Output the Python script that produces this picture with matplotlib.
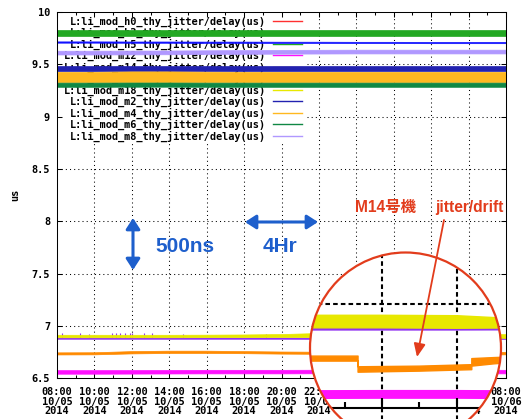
import matplotlib
matplotlib.use('Agg')
import numpy as np
import matplotlib.pyplot as plt
from matplotlib.patches import Circle, Rectangle, FancyArrowPatch

W, H, DPI = 522, 419, 100

# ------------------------------------------------------------------ data
tick_hours = [0, 2, 4, 6, 8, 10, 12, 14, 16, 18, 20, 22, 24]
minor_hours = [1, 3, 5, 7, 9, 11, 13, 15, 17, 19, 21, 23]
time_labels = ['08:00\n10/05\n2014', '10:00\n10/05\n2014', '12:00\n10/05\n2014',
               '14:00\n10/05\n2014', '16:00\n10/05\n2014', '18:00\n10/05\n2014',
               '20:00\n10/05\n2014', '22:00\n10/05\n2014', '00:00\n10/06\n2014',
               '02:00\n10/06\n2014', '04:00\n10/06\n2014', '06:00\n10/06\n2014',
               '08:00\n10/06\n2014']
y_ticks = [6.5, 7.0, 7.5, 8.0, 8.5, 9.0, 9.5, 10.0]
y_tick_labels = ['6.5', '7', '7.5', '8', '8.5', '9', '9.5', '10']

series_names = ['h0', 'h3', 'h5', 'm12', 'm14', 'm16', 'm18', 'm2', 'm4', 'm6', 'm8']
legend_labels = ['L:li_mod_%s_thy_jitter/delay(us)' % n for n in series_names]
series_colors = ['#ff3030', '#1010ff', '#22a822', '#ff10ff', '#ff8a00', '#9030f0',
                 '#e8e800', '#2222b0', '#ffb820', '#108844', '#b098ff']

hours2 = [0, 2, 4, 6, 8, 10, 12, 14, 16, 18, 20, 22, 24]

h0_hours, h0_center, h0_jitter = [], [], []   # no visible samples

h3_center = [9.713, 9.713, 9.712, 9.712, 9.711, 9.711, 9.710, 9.710, 9.709, 9.709, 9.708, 9.708, 9.708]
h3_jitter = [0.006, 0.006, 0.006, 0.006, 0.006, 0.006, 0.006, 0.006, 0.006, 0.006, 0.006, 0.006, 0.006]

h5_center = [9.800, 9.800, 9.800, 9.800, 9.800, 9.800, 9.800, 9.800, 9.800, 9.800, 9.800, 9.800, 9.800]
h5_jitter = [0.030, 0.030, 0.030, 0.030, 0.030, 0.030, 0.030, 0.030, 0.030, 0.030, 0.030, 0.030, 0.030]

m12_center = [6.560, 6.560, 6.561, 6.562, 6.563, 6.563, 6.563, 6.564, 6.566, 6.567, 6.567, 6.565, 6.563]
m12_jitter = [0.017, 0.017, 0.017, 0.017, 0.017, 0.017, 0.017, 0.017, 0.018, 0.018, 0.018, 0.018, 0.017]

m14_hours = [0, 2, 4, 6, 8, 10, 12, 14, 16, 17.36, 17.36, 19, 20.4, 20.4, 21, 22, 24]
m14_center = [6.737, 6.738, 6.748, 6.752, 6.752, 6.749, 6.745, 6.743, 6.738, 6.738,
              6.686, 6.690, 6.697, 6.720, 6.728, 6.738, 6.740]
m14_jitter = [0.010, 0.010, 0.011, 0.011, 0.011, 0.010, 0.010, 0.010, 0.012, 0.012,
              0.013, 0.012, 0.012, 0.018, 0.015, 0.012, 0.012]

m16_center = [6.883, 6.883, 6.883, 6.883, 6.883, 6.883, 6.883, 6.882, 6.882, 6.882, 6.882, 6.882, 6.882]
m16_jitter = [0.006, 0.006, 0.006, 0.006, 0.006, 0.006, 0.006, 0.006, 0.007, 0.007, 0.007, 0.006, 0.006]
m16_spike_hours = [0.27, 1.23, 1.71, 2.94, 3.15, 3.37, 3.63, 3.90, 4.01, 4.65, 5.08, 6.73, 11.17]
m16_spike_tops = [6.935, 6.930, 6.925, 6.935, 6.930, 6.932, 6.935, 6.928, 6.930, 6.928, 6.932, 6.926, 6.925]

m18_center = [6.903, 6.903, 6.903, 6.903, 6.904, 6.905, 6.908, 6.912, 6.915, 6.915, 6.913, 6.905, 6.903]
m18_jitter = [0.012, 0.012, 0.012, 0.012, 0.012, 0.013, 0.014, 0.020, 0.030, 0.030, 0.030, 0.020, 0.018]

m2_center = [9.462, 9.462, 9.462, 9.462, 9.462, 9.462, 9.462, 9.462, 9.462, 9.462, 9.462, 9.462, 9.462]
m2_jitter = [0.026, 0.026, 0.026, 0.026, 0.026, 0.026, 0.026, 0.026, 0.026, 0.026, 0.026, 0.026, 0.026]

m4_center = [9.378, 9.378, 9.380, 9.380, 9.379, 9.378, 9.378, 9.378, 9.378, 9.378, 9.378, 9.378, 9.378]
m4_jitter = [0.050, 0.050, 0.052, 0.052, 0.050, 0.050, 0.050, 0.050, 0.050, 0.050, 0.050, 0.050, 0.050]

m6_center = [9.305, 9.305, 9.306, 9.306, 9.305, 9.305, 9.305, 9.305, 9.305, 9.305, 9.305, 9.305, 9.305]
m6_jitter = [0.020, 0.020, 0.020, 0.020, 0.020, 0.020, 0.020, 0.020, 0.020, 0.020, 0.020, 0.020, 0.020]

m8_center = [9.612, 9.612, 9.613, 9.614, 9.616, 9.618, 9.620, 9.621, 9.622, 9.622, 9.622, 9.622, 9.622]
m8_jitter = [0.018, 0.018, 0.018, 0.018, 0.018, 0.018, 0.018, 0.018, 0.018, 0.018, 0.018, 0.018, 0.018]

series_data = [
    (h0_hours, h0_center, h0_jitter),
    (hours2, h3_center, h3_jitter),
    (hours2, h5_center, h5_jitter),
    (hours2, m12_center, m12_jitter),
    (m14_hours, m14_center, m14_jitter),
    (hours2, m16_center, m16_jitter),
    (hours2, m18_center, m18_jitter),
    (hours2, m2_center, m2_jitter),
    (hours2, m4_center, m4_jitter),
    (hours2, m6_center, m6_jitter),
    (hours2, m8_center, m8_jitter),
]

# ------------------------------------------------------------------ layout
L, RR, T, B = 57, 506, 12, 378.2          # plot area in pixels (top origin)
X0, X1, Y0, Y1 = 0, 24, 6.5, 10.0
MONO = 'DejaVu Sans Mono'
FS = 7.4
BLUE = '#1e5fcc'
RED = '#e23c1c'


def fx(x):
    return x / W


def fy(y):
    return 1 - y / H


def px2x(p):
    return X0 + (p - L) / (RR - L) * (X1 - X0)


def py2y(p):
    return Y1 - (p - T) / (B - T) * (Y1 - Y0)


fig = plt.figure(figsize=(W / DPI, H / DPI), dpi=DPI)
ax = fig.add_axes([L / W, (H - B) / H, (RR - L) / W, (B - T) / H])
ax.set_xlim(X0, X1)
ax.set_ylim(Y0, Y1)

for s in ax.spines.values():
    s.set_linewidth(0.75)
    s.set_color('black')

ax.set_xticks(tick_hours)
ax.set_xticklabels(time_labels, fontfamily=MONO, fontweight='bold', fontsize=FS,
                   linespacing=0.95)
ax.set_xticks(minor_hours, minor=True)
ax.set_yticks(y_ticks)
ax.set_yticklabels(y_tick_labels, fontfamily=MONO, fontweight='bold', fontsize=FS)
ax.tick_params(axis='both', which='both', direction='in', top=True, right=True,
               width=0.75, colors='black')
ax.tick_params(axis='both', which='major', length=3.6)
ax.tick_params(axis='x', which='minor', length=2.2)
ax.tick_params(axis='x', which='major', pad=6.3)
ax.tick_params(axis='y', which='major', pad=5)
ax.set_ylabel('us', fontfamily=MONO, fontweight='bold', fontsize=FS)
ax.yaxis.set_label_coords((20 - L) / (RR - L), 0.5)

# grid (dotted)
for h in tick_hours[1:-1]:
    ax.axvline(h, color='black', lw=0.75, ls=(0, (1, 3)), zorder=0.8)
for v in y_ticks[1:-1]:
    ax.axhline(v, color='black', lw=0.75, ls=(0, (1, 3)), zorder=0.8)

# opaque key box
ax.add_patch(Rectangle((0, (B - 142) / (B - T)), (307 - L) / (RR - L), (142 - T) / (B - T),
                       transform=ax.transAxes, facecolor='white', edgecolor='none',
                       zorder=1.0))
for i, (lab, col) in enumerate(zip(legend_labels, series_colors)):
    yy = 21 + 11.5 * i
    ay = (B - yy) / (B - T)
    ax.text((266 - L) / (RR - L), ay, lab, transform=ax.transAxes, ha='right',
            va='center', fontfamily=MONO, fontweight='bold', fontsize=FS, zorder=1.1)
    ax.plot([(273 - L) / (RR - L), (302 - L) / (RR - L)], [ay, ay], color=col, lw=1.0,
            transform=ax.transAxes, zorder=1.1)


def draw_series(a, lw, clip=None):
    arts = []
    for i, ((hh, cc, jj), col) in enumerate(zip(series_data, series_colors)):
        if len(hh) == 0:
            continue
        hh = np.asarray(hh, float)
        cc = np.asarray(cc, float)
        jj = np.asarray(jj, float)
        arts.append(a.fill_between(hh, cc - jj, cc + jj, facecolor=col, edgecolor=col,
                                   lw=lw, zorder=2 + 0.01 * i))
        if series_names[i] == 'm16':
            base = np.interp(m16_spike_hours, hh, cc)
            arts.append(a.vlines(m16_spike_hours, base, m16_spike_tops, color=col,
                                 lw=lw * 1.6, zorder=2 + 0.01 * i))
    if clip is not None:
        for ar in arts:
            ar.set_clip_path(clip)
    return arts


draw_series(ax, 0.5)

# ------------------------------------------------------------------ magnifier
cx, cy, R, M = 405.5, 348.0, 95.5, 2.0
ax_in = fig.add_axes([(cx - R) / W, (H - (cy + R)) / H, 2 * R / W, 2 * R / H])
ax_in.set_xlim(px2x(cx - R / M), px2x(cx + R / M))
ax_in.set_ylim(py2y(cy + R / M), py2y(cy - R / M))
ax_in.axis('off')
ax_in.patch.set_visible(False)

circ = Circle((0.5, 0.5), 0.5, transform=ax_in.transAxes, facecolor='white',
              edgecolor='none', zorder=0)
ax_in.add_patch(circ)

arts_in = []
for h in tick_hours:
    arts_in.append(ax_in.axvline(h, color='black', lw=1.5, ls=(0, (2.2, 1.5)), zorder=0.8))
for v in y_ticks[1:]:
    arts_in.append(ax_in.axhline(v, color='black', lw=1.5, ls=(0, (2.2, 1.5)), zorder=0.8))
arts_in.append(ax_in.axhline(Y0, color='black', lw=1.5, zorder=3))
upx = M * (B - T) / (Y1 - Y0)
arts_in.append(ax_in.vlines(tick_hours, Y0, Y0 + 10 / upx, color='black', lw=1.5, zorder=3))
arts_in.append(ax_in.vlines(minor_hours, Y0, Y0 + 6 / upx, color='black', lw=1.5, zorder=3))
for a_ in arts_in:
    a_.set_clip_path(circ)
draw_series(ax_in, 1.0, clip=circ)

ax_in.add_patch(Circle((0.5, 0.5), 0.5, transform=ax_in.transAxes, fill=False,
                       edgecolor=RED, lw=1.6, zorder=10, clip_on=False))

# ------------------------------------------------------------------ annotations
fig.add_artist(FancyArrowPatch((fx(133), fy(218)), (fx(133), fy(270)),
                               transform=fig.transFigure,
                               arrowstyle='<|-|>,head_length=0.65,head_width=0.42',
                               mutation_scale=10, color=BLUE, lw=2.2,
                               shrinkA=0, shrinkB=0, zorder=6))
fig.add_artist(FancyArrowPatch((fx(245), fy(222)), (fx(318), fy(222)),
                               transform=fig.transFigure,
                               arrowstyle='<|-|>,head_length=0.65,head_width=0.42',
                               mutation_scale=10, color=BLUE, lw=2.2,
                               shrinkA=0, shrinkB=0, zorder=6))
fig.text(fx(155), fy(251.7), '500ns', color=BLUE, fontsize=15, fontweight='bold',
         family=['Liberation Sans', 'DejaVu Sans'], ha='left', va='baseline', zorder=6)
fig.text(fx(262.5), fy(251.7), '4Hr', color=BLUE, fontsize=15, fontweight='bold',
         family=['Liberation Sans', 'DejaVu Sans'], ha='left', va='baseline', zorder=6)

fig.text(fx(355), fy(212), 'M14号機', color=RED, fontsize=11.2, fontweight='bold',
         family=['Liberation Sans', 'Noto Sans CJK JP', 'DejaVu Sans'],
         ha='left', va='baseline', zorder=12)
fig.text(fx(435), fy(212), 'jitter/drift', color=RED, fontsize=11.2, fontweight='bold',
         family=['Liberation Sans', 'DejaVu Sans'], ha='left', va='baseline', zorder=12)
fig.add_artist(FancyArrowPatch((fx(444), fy(220)), (fx(417), fy(357)),
                               transform=fig.transFigure,
                               arrowstyle='-|>,head_length=0.8,head_width=0.35',
                               mutation_scale=10, color=RED, lw=1.3,
                               shrinkA=0, shrinkB=0, zorder=12))

fig.savefig('out.png', dpi=DPI)
